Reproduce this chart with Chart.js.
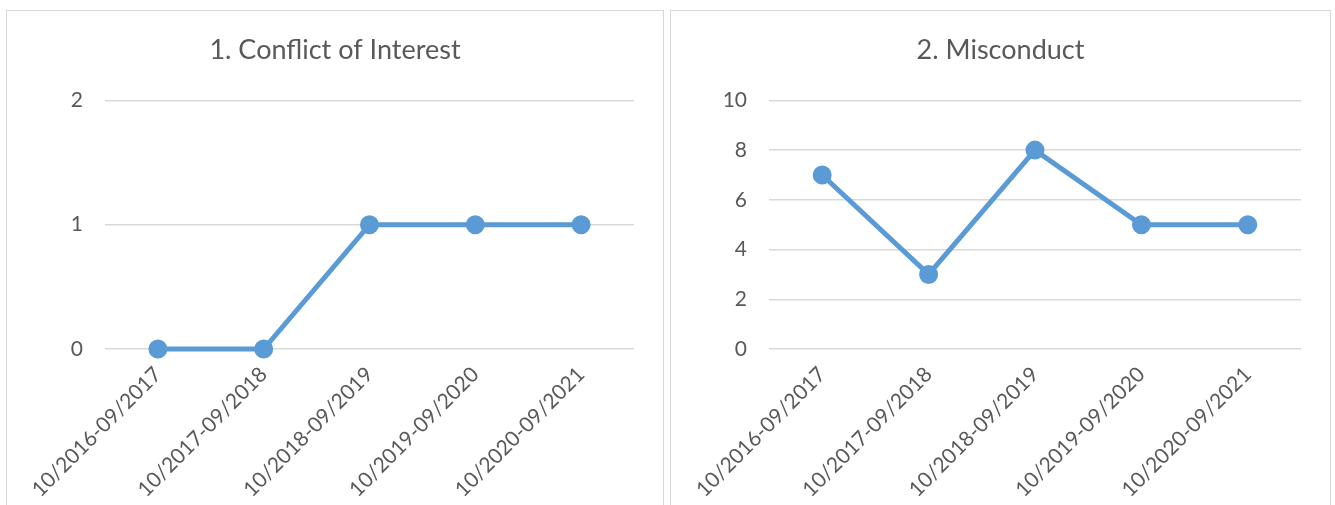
<!DOCTYPE html>
<html>
<head>
<meta charset="utf-8">
<script src="https://cdn.jsdelivr.net/npm/chart.js@4"></script>
<style>
  html, body { margin: 0; padding: 0; background: #fff; overflow: hidden; }
  .box { position: absolute; top: 10px; height: 520px; border: 1px solid #d9d9d9; box-sizing: border-box; }
  #box1 { left: 6px; width: 658px; }
  #box2 { left: 670px; width: 661px; }
  canvas { display: block; }
</style>
</head>
<body>
<div class="box" id="box1"><canvas id="c1"></canvas></div>
<div class="box" id="box2"><canvas id="c2"></canvas></div>
<script>
// periodos fiscales
const periods = ['10/2016-09/2017', '10/2017-09/2018', '10/2018-09/2019', '10/2019-09/2020', '10/2020-09/2021'];

const conflictValues = [0, 0, 1, 1, 1];
const misconductValues = [7, 3, 8, 5, 5];

const conflictTicks = { min: 0, max: 2, step: 1 };
const misconductTicks = { min: 0, max: 10, step: 2 };

const FONT = 'Lato, "Open Sans", sans-serif';
const TEXT = '#595959';
const GRID = '#d9d9d9';
const BLUE = '#5b9bd5';

// Función para crear cada gráfico
function makeChart(id, title, values, yt) {
  const canvas = document.getElementById(id);
  const box = canvas.parentElement;
  canvas.width = box.clientWidth;
  canvas.height = box.clientHeight;
  return new Chart(canvas, {
    type: 'line',
    data: {
      labels: periods,
      datasets: [{
        label: title,
        data: values,
        borderColor: BLUE,
        backgroundColor: BLUE,
        borderWidth: 5,
        pointRadius: 7,
        pointHoverRadius: 7,
        tension: 0,
        fill: false,
        clip: false
      }]
    },
    options: {
      responsive: false,
      animation: false,
      plugins: {
        legend: { display: false },
        tooltip: { enabled: false },
        title: {
          display: true,
          text: title,
          color: TEXT,
          font: { family: FONT, size: 27, weight: 'normal' },
          padding: { top: 23, bottom: 34 }
        }
      },
      scales: {
        x: {
          offset: true,
          grid: { display: false },
          border: { display: false },
          ticks: {
            color: TEXT,
            font: { family: FONT, size: 21 },
            minRotation: 45,
            maxRotation: 45,
            padding: 5
          },
          afterFit: (s) => { s.height = 180; }
        },
        y: {
          min: yt.min,
          max: yt.max,
          grid: { color: GRID, lineWidth: 1.5, drawTicks: false },
          border: { display: false },
          ticks: {
            stepSize: yt.step,
            color: TEXT,
            font: { family: FONT, size: 21 },
            padding: 22
          },
          afterFit: (s) => { s.width = 98; }
        },
        // espacio vacío a la derecha
        yRight: {
          position: 'right',
          grid: { display: false },
          border: { display: false },
          ticks: { display: false },
          afterFit: (s) => { s.width = 29; }
        }
      }
    }
  });
}

makeChart('c1', '1. Conflict of Interest', conflictValues, conflictTicks);
makeChart('c2', '2. Misconduct', misconductValues, misconductTicks);
</script>
</body>
</html>
